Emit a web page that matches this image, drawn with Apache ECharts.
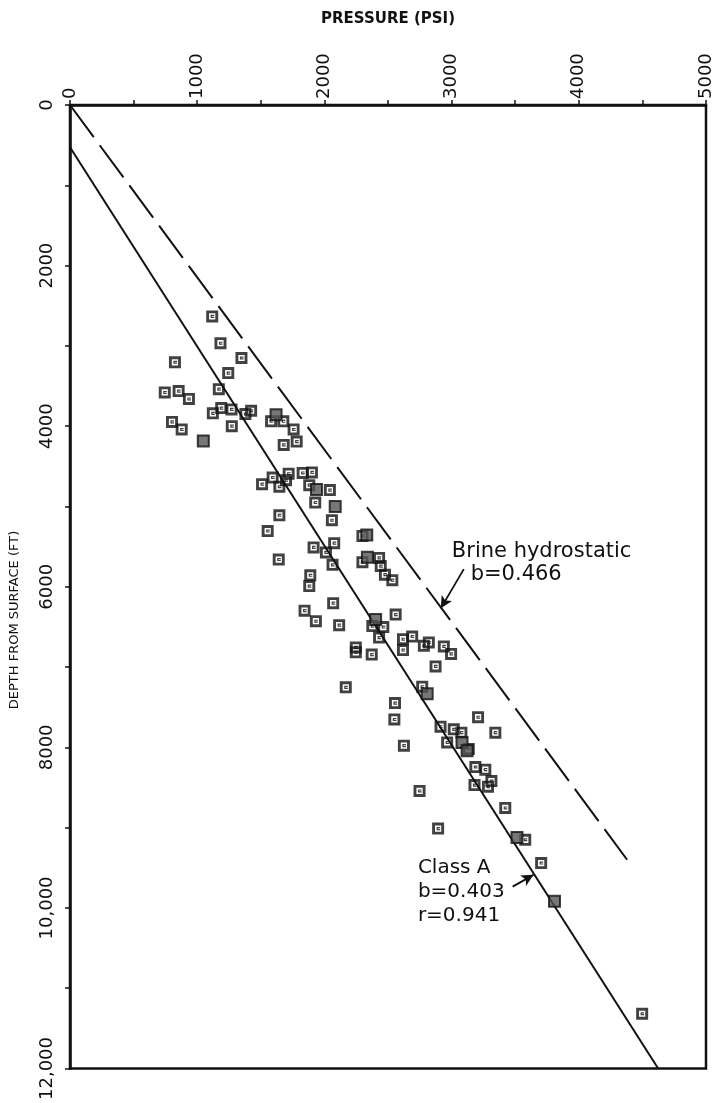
<!DOCTYPE html>
<html>
<head>
<meta charset="utf-8">
<script src="https://cdn.jsdelivr.net/npm/echarts@6/dist/echarts.min.js"></script>
<style>
html,body{margin:0;padding:0;background:#fff;}
#chart{width:715px;height:1103px;}
</style>
</head>
<body>
<div id="chart"></div>
<script>
// ---- data (pressure psi, depth ft) ----
const xTickLabels = ['0', '1000', '2000', '3000', '4000', '5000'];
const yTickLabels = ['0', '2000', '4000', '6000', '8000', '10,000', '12,000'];

const openPoints = [
  [1118,2633],[1183,2967],[1348,3151],[825,3204],[1244,3339],[1170,3539],[745,3580],[854,3563],
  [935,3661],[1123,3840],[1189,3775],[1270,3791],[1379,3849],[1424,3808],[802,3947],[878,4041],
  [1272,4000],[1581,3939],[1677,3939],[1758,4041],[1680,4233],[1782,4192],
  [1829,4583],[1902,4576],[1510,4722],[1593,4640],[1646,4754],[1698,4673],[1719,4592],
  [1881,4735],[2043,4796],[1928,4951],[1646,5110],[2059,5171],[1554,5306],
  [2299,5367],[2077,5457],[1915,5510],[2012,5572],[1641,5661],[2064,5727],[2299,5694],
  [2430,5641],[2443,5743],[2476,5849],[2534,5918],[1889,5857],[1881,5992],[2069,6204],
  [2560,6347],[1844,6298],[1933,6429],[2116,6478],[2377,6490],[2463,6502],[2430,6633],
  [2618,6653],[2690,6620],[2618,6788],[2782,6735],[2821,6694],[2939,6743],[2996,6836],
  [2247,6755],[2247,6816],[2372,6845],[2874,6992],[2168,7253],[2769,7245],[2555,7449],
  [2550,7653],[2913,7743],[3017,7776],[2965,7939],[2625,7979],
  [3208,7625],[3344,7817],[3077,7817],[3135,8021],[3187,8245],[3265,8278],[3180,8470],
  [3286,8490],[3313,8420],[2748,8543],[3422,8755],[2894,9012],[3579,9151],[3704,9441],
  [4498,11318]
];
const filledPoints = [
  [1048,4184],[1620,3857],[1938,4788],[2085,5000],[2333,5355],[2338,5633],[2403,6408],
  [2808,7334],[3082,7939],[3122,8041],[3514,9122],[3809,9918]
];

// fitted lines [pressure, depth]
const classALine = [[0,526],[4624,12000]];
const brineLine = [[0,0],[4380,9400]];

// annotation arrows [from, to] in data units
const brineArrow = [[3096,5780],[2915,6269]];
const classAArrow = [[3480,9735],[3644,9588]];

// annotation text anchors [pressure, depth]
const brineTextAnchor = [3002,5559];
const brineBAnchor = [3150,5853];
const classATextAnchor = [2735,9355];

const markerPath = 'path://M0,0 L10,0 L10,10 L0,10 Z M2.4,2.4 L2.4,7.6 L7.6,7.6 L7.6,2.4 Z M3.7,3.7 L6.7,3.7 L6.7,4.7 L4.7,4.7 L4.7,5.3 L6.7,5.3 L6.7,6.3 L3.7,6.3 Z';

const chart = echarts.init(document.getElementById('chart'), null, {renderer: 'canvas'});
const FONT = '"DejaVu Sans", sans-serif';
const INK = '#111';

const option = {
  backgroundColor: '#fff',
  animation: false,
  grid: {left: 70, right: 7, top: 105, bottom: 18, show: true, borderColor: INK, borderWidth: 2.5, backgroundColor: 'transparent'},
  xAxis: {
    type: 'value', position: 'top', min: 0, max: 5000, interval: 500,
    name: 'PRESSURE (PSI)', nameLocation: 'middle', nameGap: 78,
    nameTextStyle: {fontFamily: FONT, fontSize: 15, fontWeight: 'bold', color: INK},
    axisLine: {show: true, lineStyle: {color: INK, width: 2.5}},
    axisTick: {show: true, length: 5, lineStyle: {color: INK, width: 1.5}},
    axisLabel: {rotate: 90, margin: 6, fontFamily: FONT, fontSize: 18, color: INK,
      formatter: v => (v % 1000 === 0 ? xTickLabels[v / 1000] : '')},
    splitLine: {show: false}
  },
  yAxis: {
    type: 'value', inverse: true, min: 0, max: 12000, interval: 1000,
    axisLine: {show: true, lineStyle: {color: INK, width: 2.5}},
    axisTick: {show: true, length: 5, lineStyle: {color: INK, width: 1.5}},
    axisLabel: {rotate: 90, margin: 14, fontFamily: FONT, fontSize: 18, color: INK,
      formatter: v => (v % 2000 === 0 ? yTickLabels[v / 2000] : '')},
    splitLine: {show: false}
  },
  series: [
    {
      type: 'line', data: classALine, symbol: 'none', silent: true,
      lineStyle: {color: INK, width: 2}, z: 2
    },
    {
      type: 'line', data: brineLine, symbol: 'none', silent: true,
      lineStyle: {color: INK, width: 2, type: [40, 10]}, z: 2
    },
    {
      type: 'scatter', data: openPoints, symbol: markerPath, symbolSize: 12,
      itemStyle: {color: INK}, z: 3
    },
    {
      type: 'scatter', data: filledPoints, symbol: 'rect', symbolSize: 11,
      itemStyle: {color: '#555', borderColor: INK, borderWidth: 2}, z: 3
    },
    {
      type: 'line', data: [], symbol: 'none',
      markLine: {
        silent: true, symbol: ['none', 'arrow'], symbolSize: [9, 12],
        lineStyle: {color: INK, width: 1.8, type: 'solid'},
        label: {show: false},
        data: [
          [{coord: brineArrow[0]}, {coord: brineArrow[1]}],
          [{coord: classAArrow[0]}, {coord: classAArrow[1]}]
        ]
      }
    }
  ]
};
chart.setOption(option);

function px(p) { return chart.convertToPixel({gridIndex: 0}, p); }
const a1 = px(brineTextAnchor), a2 = px(brineBAnchor), a3 = px(classATextAnchor);
chart.setOption({
  graphic: [
    {type: 'text', x: a1[0], y: a1[1], style: {text: 'Brine hydrostatic', font: '21px ' + FONT, fill: INK, textVerticalAlign: 'middle'}},
    {type: 'text', x: a2[0], y: a2[1], style: {text: 'b=0.466', font: '21px ' + FONT, fill: INK, textVerticalAlign: 'middle'}},
    {type: 'text', x: a3[0], y: a3[1], style: {text: 'Class A\nb=0.403\nr=0.941', font: '20px ' + FONT, fill: INK, lineHeight: 24, textVerticalAlign: 'top'}},
    {type: 'text', x: 15, y: 620, rotation: Math.PI / 2,
      style: {text: 'DEPTH FROM SURFACE (FT)', font: '13px ' + FONT, fill: INK, textAlign: 'center', textVerticalAlign: 'middle'}}
  ]
});
</script>
</body>
</html>
